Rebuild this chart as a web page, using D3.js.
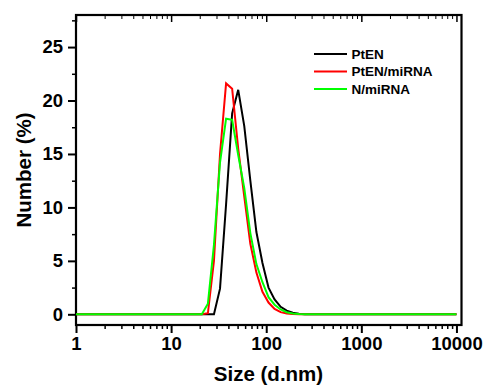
<!DOCTYPE html>
<html>
<head>
<meta charset="utf-8">
<script src="https://cdn.jsdelivr.net/npm/d3@7"></script>
<style>
  body { margin: 0; background: white; }
  text { font-family: Arial, "Liberation Sans", sans-serif; font-weight: bold; }
</style>
</head>
<body>
<svg id="canvas" width="489" height="386"></svg>
<script>
// size bins (d.nm) and number distributions
var sizes = [1, 21.04, 24.36, 28.21, 32.67, 37.84, 43.82, 50.75, 58.77, 68.06, 78.82,
             91.28, 105.7, 122.4, 141.8, 164.2, 190.1, 220.2, 255, 295.3, 10000];
var ptEN      = [0, 0, 0, 0, 2.4, 10.3, 18.8, 21.0, 17.6, 12.5, 7.7,
                 4.8, 2.5, 1.4, 0.7, 0.35, 0.15, 0.05, 0, 0, 0];
var ptENmiRNA = [0, 0, 0.1, 5.0, 15.0, 21.6, 21.1, 15.5, 11.0, 6.6, 3.9,
                 2.1, 1.1, 0.5, 0.2, 0.07, 0.02, 0, 0, 0, 0];
var nmiRNA    = [0, 0, 1.0, 6.5, 14.2, 18.3, 18.2, 14.9, 11.8, 7.6, 4.7,
                 3.0, 1.6, 0.9, 0.45, 0.2, 0.08, 0.02, 0, 0, 0];

var seriesNames = ["PtEN", "PtEN/miRNA", "N/miRNA"];
var seriesColors = ["#000000", "#ff0000", "#00ff00"];
var seriesValues = [ptEN, ptENmiRNA, nmiRNA];

var xTicks = [1, 10, 100, 1000, 10000];
var yTicks = [0, 5, 10, 15, 20, 25];

var svg = d3.select("#canvas");
var plotLeft = 76, plotRight = 461.5, plotTop = 15, plotBottom = 325;

var x = d3.scaleLog().domain([1, 11300]).range([plotLeft, plotRight]);
var y = d3.scaleLinear().domain([-1, 28]).range([plotBottom, plotTop]);

// minor ticks
var xMinor = [];
for (var dec = 1; dec < 10000; dec *= 10)
  for (var k = 2; k < 10; k++) xMinor.push(dec * k);
var yMinor = [];
for (var v = 2.5; v < 28; v += 5) yMinor.push(v);

svg.append("defs").append("clipPath").attr("id", "plotclip")
  .append("rect").attr("x", plotLeft).attr("y", plotTop)
  .attr("width", plotRight - plotLeft).attr("height", plotBottom - plotTop);

// bottom axis
svg.append("g")
  .attr("transform", "translate(0," + plotBottom + ")")
  .call(d3.axisBottom(x).tickValues(xTicks).tickFormat(d3.format("d"))
    .tickSize(8).tickPadding(4))
  .call(function(g) {
    g.select(".domain").remove();
    g.selectAll("line").attr("stroke-width", 2);
    g.selectAll("text").style("font-size", "18.5px").attr("fill", "#000");
  });
svg.append("g")
  .attr("transform", "translate(0," + plotBottom + ")")
  .call(d3.axisBottom(x).tickValues(xMinor).tickFormat("").tickSize(4))
  .call(function(g) { g.select(".domain").remove(); g.selectAll("line").attr("stroke-width", 1.5); });

// top axis, ticks pointing inward
svg.append("g")
  .attr("transform", "translate(0," + plotTop + ")")
  .call(d3.axisBottom(x).tickValues(xTicks).tickFormat("").tickSize(7))
  .call(function(g) { g.select(".domain").remove(); g.selectAll("line").attr("stroke-width", 1.5); });
svg.append("g")
  .attr("transform", "translate(0," + plotTop + ")")
  .call(d3.axisBottom(x).tickValues(xMinor).tickFormat("").tickSize(4))
  .call(function(g) { g.select(".domain").remove(); g.selectAll("line").attr("stroke-width", 1); });

// left axis
svg.append("g")
  .attr("transform", "translate(" + plotLeft + ",0)")
  .call(d3.axisLeft(y).tickValues(yTicks).tickSize(8).tickPadding(5))
  .call(function(g) {
    g.select(".domain").remove();
    g.selectAll("line").attr("stroke-width", 2);
    g.selectAll("text").style("font-size", "18.5px").attr("fill", "#000");
  });
svg.append("g")
  .attr("transform", "translate(" + plotLeft + ",0)")
  .call(d3.axisLeft(y).tickValues(yMinor).tickFormat("").tickSize(4))
  .call(function(g) { g.select(".domain").remove(); g.selectAll("line").attr("stroke-width", 1.5); });

// frame
svg.append("rect")
  .attr("x", plotLeft).attr("y", plotTop)
  .attr("width", plotRight - plotLeft).attr("height", plotBottom - plotTop)
  .attr("fill", "none").attr("stroke", "#000").attr("stroke-width", 2.2);

// curves
var line = d3.line()
  .x(function(d) { return x(d[0]); })
  .y(function(d) { return y(d[1]); });

svg.append("g").attr("clip-path", "url(#plotclip)")
  .selectAll("path.curve")
  .data(seriesValues)
  .enter().append("path")
  .attr("class", "curve")
  .attr("d", function(vals) { return line(sizes.map(function(s, i) { return [s, vals[i]]; })); })
  .attr("fill", "none")
  .attr("stroke", function(d, i) { return seriesColors[i]; })
  .attr("stroke-width", 2)
  .attr("stroke-linejoin", "miter");

// legend
var legendY = [54, 71.5, 89];
var legend = svg.append("g");
seriesNames.forEach(function(name, i) {
  legend.append("line")
    .attr("x1", 314).attr("x2", 347)
    .attr("y1", legendY[i]).attr("y2", legendY[i])
    .attr("stroke", seriesColors[i]).attr("stroke-width", 2);
  legend.append("text")
    .attr("x", 351.5).attr("y", legendY[i] + 4.7)
    .style("font-size", "13.5px")
    .text(name);
});

// axis titles
svg.append("text")
  .attr("x", 268.5)
  .attr("y", 381)
  .attr("text-anchor", "middle")
  .style("font-size", "20.5px")
  .text("Size (d.nm)");

svg.append("text")
  .attr("transform", "translate(31," + ((plotTop + plotBottom) / 2) + ") rotate(-90)")
  .attr("text-anchor", "middle")
  .style("font-size", "20.5px")
  .text("Number (%)");
</script>
</body>
</html>
